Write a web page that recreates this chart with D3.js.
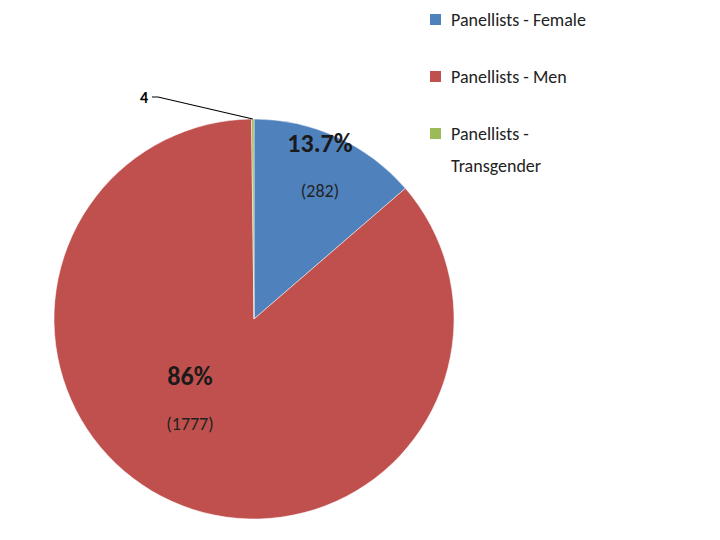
<!DOCTYPE html>
<html><head><meta charset="utf-8">
<script src="https://cdn.jsdelivr.net/npm/d3@7"></script>
<style>body{margin:0;background:#fff}</style></head>
<body><svg id="c" width="720" height="540"></svg>
<script>
const categories = ["Panellists - Female", "Panellists - Men", "Panellists - Transgender"];
const values = [282, 1777, 4];
const pctLabels = ["13.7%", "86%", ""];
const colors = ["#4F81BD", "#C0504D", "#9BBB59"];

const svg = d3.select("#c");
const font = "Calibri, 'Liberation Sans', Arial, sans-serif";
const cx = 254, cy = 319, r = 200;
const pie = d3.pie().sort(null)(values);
const arc = d3.arc().innerRadius(0).outerRadius(r);
const g = svg.append("g").attr("transform", `translate(${cx},${cy})`);
g.selectAll("path").data(pie).join("path").attr("d", arc)
  .attr("fill", (d, i) => colors[i]).attr("stroke", "#fff").attr("stroke-width", 0.5);

const labelPos = [[66, -167], [-64, 66]];
[0, 1].forEach(i => {
  const [x, y] = labelPos[i];
  g.append("text").attr("x", x).attr("y", y).attr("text-anchor", "middle")
    .attr("font-family", font).attr("font-weight", "bold").attr("font-size", 26).attr("fill", "#1a1a1a").text(pctLabels[i]);
  g.append("text").attr("x", x).attr("y", y + 45).attr("text-anchor", "middle")
    .attr("font-family", font).attr("font-size", 18).attr("fill", "#222").text(`(${values[i]})`);
});
// transgender leader label
const mid = (pie[2].startAngle + pie[2].endAngle) / 2;
const ex = Math.sin(mid) * r, ey = -Math.cos(mid) * r;
g.append("polyline").attr("points", `${ex},${ey} ${-96},${-222} ${-102},${-222}`)
  .attr("fill", "none").attr("stroke", "#000").attr("stroke-width", 1.2);
g.append("text").attr("x", -106).attr("y", -216).attr("text-anchor", "end")
  .attr("font-family", font).attr("font-weight", "bold").attr("font-size", 16).text(values[2]);

// legend
const leg = [[20, ["Panellists - Female"]], [77, ["Panellists - Men"]], [134, ["Panellists -", "Transgender"]]];
leg.forEach(([y, lines], i) => {
  svg.append("rect").attr("x", 430).attr("y", y - 6).attr("width", 11).attr("height", 11).attr("fill", colors[i]);
  lines.forEach((t, j) => svg.append("text").attr("x", 451).attr("y", y + 6 + j * 32)
    .attr("font-family", font).attr("font-size", 18).attr("fill", "#222").text(t));
});
</script></body></html>
